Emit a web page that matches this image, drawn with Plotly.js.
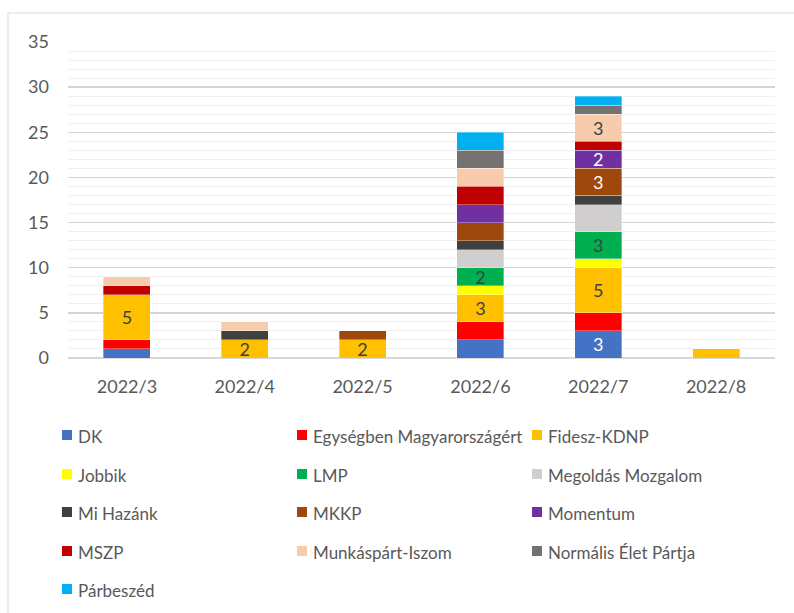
<!DOCTYPE html>
<html>
<head>
<meta charset="utf-8">
<script src="https://cdn.plot.ly/plotly-3.0.1.min.js"></script>
<style>html,body{margin:0;padding:0;background:#fff;}#chart{width:794px;height:613px;}</style>
</head>
<body>
<div id="chart"></div>
<script>
// ---- data ----
const months = ['2022/3', '2022/4', '2022/5', '2022/6', '2022/7', '2022/8'];
const seriesNames = ['DK', 'Egységben Magyarországért', 'Fidesz-KDNP', 'Jobbik', 'LMP', 'Megoldás Mozgalom', 'Mi Hazánk', 'MKKP', 'Momentum', 'MSZP', 'Munkáspárt-Iszom', 'Normális Élet Pártja', 'Párbeszéd'];
const DK        = [1, 0, 0, 2, 3, 0];
const Egysegben = [1, 0, 0, 2, 2, 0];
const Fidesz    = [5, 2, 2, 3, 5, 1];
const Jobbik    = [0, 0, 0, 1, 1, 0];
const LMP       = [0, 0, 0, 2, 3, 0];
const Megoldas  = [0, 0, 0, 2, 3, 0];
const MiHazank  = [0, 1, 0, 1, 1, 0];
const MKKP      = [0, 0, 1, 2, 3, 0];
const Momentum  = [0, 0, 0, 2, 2, 0];
const MSZP      = [1, 0, 0, 2, 1, 0];
const Munkaspart= [1, 1, 0, 2, 3, 0];
const Normalis  = [0, 0, 0, 2, 1, 0];
const Parbeszed = [0, 0, 0, 2, 1, 0];
const seriesValues = [DK, Egysegben, Fidesz, Jobbik, LMP, Megoldas, MiHazank, MKKP, Momentum, MSZP, Munkaspart, Normalis, Parbeszed];
// which data labels are shown (as in the reference)
const labelShown = {
  'DK':                [0, 0, 0, 0, 1, 0],
  'Fidesz-KDNP':       [1, 1, 1, 1, 1, 0],
  'LMP':               [0, 0, 0, 1, 1, 0],
  'MKKP':              [0, 0, 0, 0, 1, 0],
  'Momentum':          [0, 0, 0, 0, 1, 0],
  'Munkáspárt-Iszom':  [0, 0, 0, 0, 1, 0]
};

// ---- styles ----
const colors = ['#4472C4', '#FF0000', '#FFC000', '#FFFF00', '#00B050', '#D0CECE', '#404040', '#9E480E', '#7030A0', '#C00000', '#F8CBAD', '#767171', '#00B0F0'];
const labelColors = {'DK': '#ffffff', 'MKKP': '#ffffff', 'Momentum': '#ffffff'};
const FONT = 'Lato, "Open Sans", sans-serif';

const traces = seriesNames.map((name, i) => {
  const shown = labelShown[name] || [0,0,0,0,0,0];
  return {
    type: 'bar',
    name: name,
    x: months,
    y: seriesValues[i],
    text: seriesValues[i].map((v, j) => (shown[j] && v > 0) ? String(v) : ''),
    textposition: 'inside',
    insidetextanchor: 'middle',
    textangle: 0,
    textfont: {family: FONT, size: 18, color: labelColors[name] || '#404040'},
    marker: {color: colors[i], line: {width: 0.6, color: 'rgba(255,255,255,0.55)'}},
    hoverinfo: 'skip',
    showlegend: false
  };
});

// layout geometry (pixels)
const L = 68, R = 19, T = 42, B = 255, W = 794, H = 613;
const pw = W - L - R, ph = H - T - B;
const px2x = px => (px - L) / pw;
const py2y = py => (H - B - py) / ph;

const shapes = [{
  type: 'rect', xref: 'paper', yref: 'paper', layer: 'below',
  x0: px2x(8), x1: px2x(W + 10), y0: py2y(H + 10), y1: py2y(13),
  line: {color: '#d9d9d9', width: 1}, fillcolor: 'rgba(0,0,0,0)'
}];
const annotations = [];
const colX = [62, 297, 532];
const rowY = [435, 474, 512, 551, 589];
seriesNames.forEach((name, i) => {
  const c = i % 3, r = Math.floor(i / 3);
  const sx = colX[c], sy = rowY[r];
  shapes.push({
    type: 'rect', xref: 'paper', yref: 'paper',
    x0: px2x(sx), x1: px2x(sx + 10), y0: py2y(sy + 5), y1: py2y(sy - 5),
    fillcolor: colors[i], line: {width: 0}
  });
  annotations.push({
    xref: 'paper', yref: 'paper', x: px2x(sx + 14), y: py2y(sy + 1),
    xanchor: 'left', yanchor: 'middle', showarrow: false,
    text: name, font: {family: FONT, size: 17, color: '#595959'}
  });
});

const layout = {
  width: W, height: H,
  margin: {l: L, r: R, t: T, b: B, pad: 0},
  paper_bgcolor: '#ffffff', plot_bgcolor: '#ffffff',
  barmode: 'stack', bargap: 0.6,
  showlegend: false,
  uniformtext: {minsize: 18, mode: 'show'},
  font: {family: FONT, color: '#595959'},
  xaxis: {
    type: 'category', showgrid: false, showline: true, linecolor: '#d9d9d9', linewidth: 1.3,
    ticks: '', tickfont: {family: FONT, size: 18, color: '#595959'}, ticklabelstandoff: 12
  },
  yaxis: {
    range: [0, 35], dtick: 5, tick0: 0, showline: false,
    gridcolor: '#d4d4d4', gridwidth: 1.5,
    zeroline: true, zerolinecolor: '#d4d4d4', zerolinewidth: 1.5,
    minor: {dtick: 1, showgrid: true, gridcolor: '#f0f0f0', gridwidth: 1},
    ticks: '', tickfont: {family: FONT, size: 18, color: '#595959'}, ticklabelstandoff: 18
  },
  shapes: shapes,
  annotations: annotations
};

Plotly.newPlot('chart', traces, layout, {displayModeBar: false, staticPlot: true});
</script>
</body>
</html>
